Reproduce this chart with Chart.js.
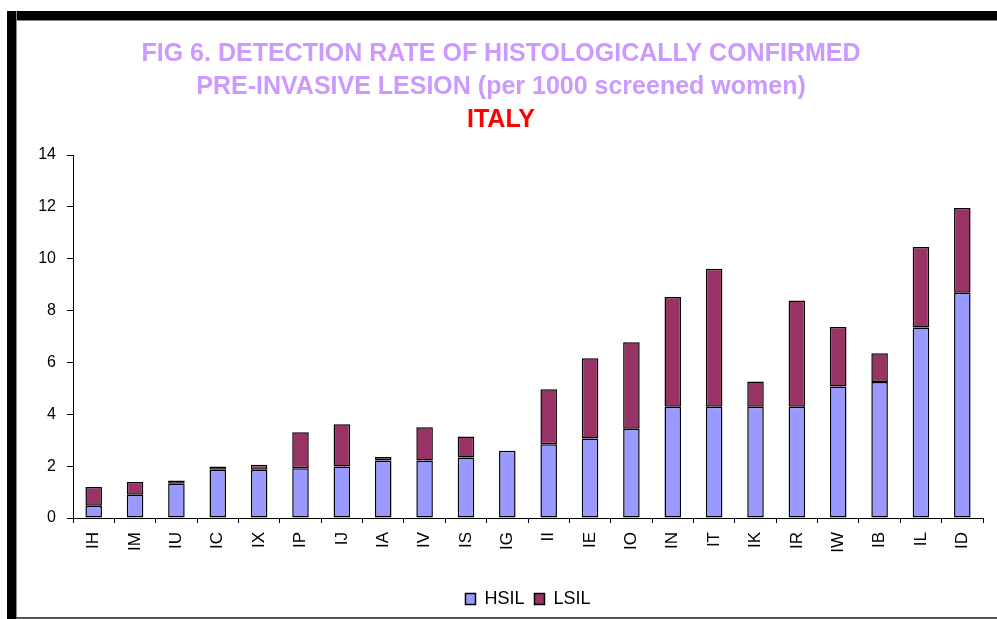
<!DOCTYPE html>
<html>
<head>
<meta charset="utf-8">
<script src="https://cdn.jsdelivr.net/npm/chart.js@4"></script>
<style>
  html, body { margin: 0; padding: 0; background: #fff; }
  #wrap { position: relative; width: 997px; height: 619px; overflow: hidden; }
  #frameTop { position: absolute; left: 7px; top: 11px; width: 990px; height: 9px; background: #000; border-bottom: 1px solid #888; }
  #frameLeft { position: absolute; left: 7px; top: 11px; width: 9px; height: 608px; background: #000; border-right: 1px solid #888; }
  #frameBottom { position: absolute; left: 16px; top: 617px; width: 981px; height: 2px; background: #555; }
  canvas { position: absolute; left: 0; top: 0; }
</style>
</head>
<body>
<div id="wrap">
  <div id="frameTop"></div>
  <div id="frameLeft"></div>
  <div id="frameBottom"></div>
  <canvas id="c" width="997" height="619"></canvas>
</div>
<script>
const categories = ["IH","IM","IU","IC","IX","IP","IJ","IA","IV","IS","IG","II","IE","IO","IN","IT","IK","IR","IW","IB","IL","ID"];
const hsil = [0.47,0.90,1.32,1.86,1.86,1.92,1.99,2.22,2.22,2.33,2.59,2.84,3.07,3.44,4.29,4.29,4.29,4.29,5.07,5.25,7.35,8.69];
const totals = [1.20,1.39,1.45,1.99,2.05,3.31,3.62,2.35,3.50,3.14,2.59,4.97,6.16,6.78,8.52,9.61,5.26,8.39,7.37,6.35,10.45,11.96];
const lsil = totals.map((t, i) => Math.max(0, +(t - hsil[i]).toFixed(2)));
const yTicks = [0, 2, 4, 6, 8, 10, 12, 14];
const titleLines = ["FIG 6. DETECTION RATE OF HISTOLOGICALLY CONFIRMED", "PRE-INVASIVE LESION (per 1000 screened women)"];
const subtitleText = "ITALY";

const FONT = "Arial, 'Liberation Sans', sans-serif";

new Chart(document.getElementById('c'), {
  type: 'bar',
  data: {
    labels: categories,
    datasets: [
      { label: 'HSIL', data: hsil, backgroundColor: '#9999FF', borderColor: '#000', borderWidth: 1.5, borderSkipped: false, stack: 's' },
      { label: 'LSIL', data: lsil, backgroundColor: '#993366', borderColor: '#000', borderWidth: 1.5, borderSkipped: false, stack: 's' }
    ]
  },
  options: {
    responsive: false,
    animation: false,
    devicePixelRatio: 1,
    layout: { padding: { left: 19, right: 14, top: 38, bottom: 1 } },
    datasets: { bar: { barPercentage: 0.4, categoryPercentage: 1.0 } },
    plugins: {
      title: {
        display: true,
        text: titleLines,
        color: '#CC99FF',
        font: { family: FONT, size: 25, weight: 'bold', lineHeight: 1.32 },
        padding: { top: 0, bottom: 0 }
      },
      subtitle: {
        display: true,
        text: subtitleText,
        color: '#FF0000',
        font: { family: FONT, size: 25, weight: 'bold', lineHeight: 1.32 },
        padding: { top: 0, bottom: 18 }
      },
      legend: {
        position: 'bottom',
        fullSize: false,
        labels: {
          boxWidth: 10, boxHeight: 11,
          color: '#000',
          font: { family: FONT, size: 18 },
          padding: 10
        }
      },
      tooltip: { enabled: false }
    },
    scales: {
      x: {
        stacked: true,
        offset: true,
        afterFit: (s) => { s.height = 62; },
        grid: { display: true, drawOnChartArea: false, drawTicks: true, tickLength: 5, color: '#000', offset: true },
        border: { display: true, color: '#000', width: 1 },
        ticks: { color: '#000', font: { family: FONT, size: 17 }, minRotation: 90, maxRotation: 90, autoSkip: false, padding: 9 }
      },
      y: {
        stacked: true,
        min: 0, max: 14,
        afterFit: (s) => { s.width = 54; },
        afterBuildTicks: (s) => { s.ticks = yTicks.map(v => ({ value: v })); },
        grid: { display: true, drawOnChartArea: false, drawTicks: true, tickLength: 6, color: '#000' },
        border: { display: true, color: '#000', width: 1 },
        ticks: { color: '#000', font: { family: FONT, size: 16 }, padding: 11 }
      }
    }
  }
});
</script>
</body>
</html>
